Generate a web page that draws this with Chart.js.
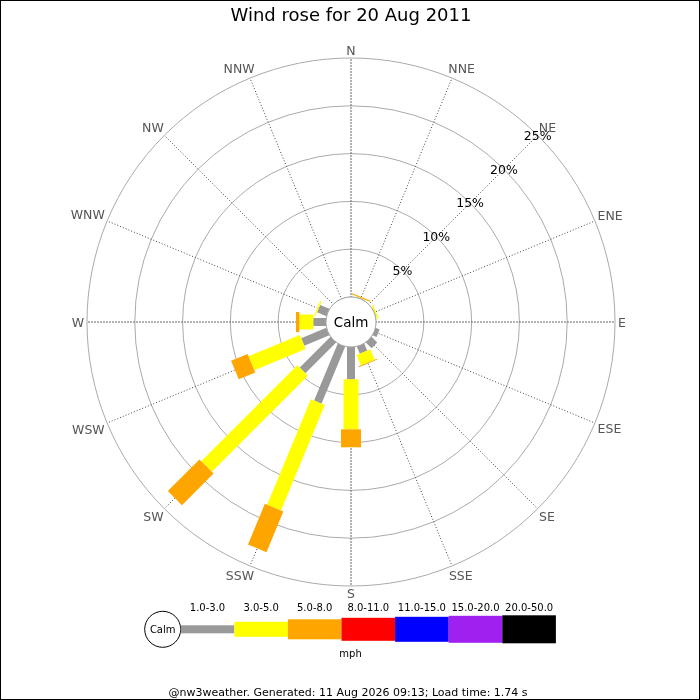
<!DOCTYPE html>
<html>
<head>
<meta charset="utf-8">
<script src="https://cdn.jsdelivr.net/npm/chart.js@4.4.1/dist/chart.umd.min.js"></script>
<style>
html,body{margin:0;padding:0;background:#fff;}
#wrap{width:700px;height:700px;position:relative;}
canvas{display:block;}
</style>
</head>
<body>
<div id="wrap"><canvas id="c" width="700" height="700"></canvas></div>
<script>
// ---------- data ----------
const directions = ['N','NNE','NE','ENE','E','ESE','SE','SSE','S','SSW','SW','WSW','W','WNW','NW','NNW'];
const speedBands = ['1.0-3.0','3.0-5.0','5.0-8.0','8.0-11.0','11.0-15.0','15.0-20.0','20.0-50.0'];
const speedUnit = 'mph';
// percentage of time per direction for each speed band
const band1to3   = [0, 0.05, 0, 0.05, 0, 0.45, 0.85, 0.80, 3.38, 6.46, 4.55, 2.85, 1.33, 1.05, 0, 0];
const band3to5   = [0, 0.05, 0, 0.15, 0, 0,    0,    1.17, 5.23, 11.95, 14.21, 5.81, 1.46, 0.15, 0, 0];
const band5to8   = [0, 0.12, 0, 0,    0, 0,    0,    0.10, 1.88, 4.60, 4.68, 1.87, 0.35, 0,    0, 0];
const band8to11  = [0, 0, 0, 0, 0, 0, 0, 0, 0, 0, 0, 0, 0, 0, 0, 0];
const band11to15 = [0, 0, 0, 0, 0, 0, 0, 0, 0, 0, 0, 0, 0, 0, 0, 0];
const band15to20 = [0, 0, 0, 0, 0, 0, 0, 0, 0, 0, 0, 0, 0, 0, 0, 0];
const band20to50 = [0, 0, 0, 0, 0, 0, 0, 0, 0, 0, 0, 0, 0, 0, 0, 0];
const tickValues = [0, 5, 10, 15, 20, 25];
const tickLabels = ['', '5%', '10%', '15%', '20%', '25%'];
const titleText = 'Wind rose for 20 Aug 2011';
const footerText = '@nw3weather. Generated: 11 Aug 2026 09:13; Load time: 1.74 s';

// ---------- styles ----------
const bandColors = ['#999999','#ffff00','#ffa500','#ff0000','#0000ff','#a020f0','#000000'];
const bandWidths = [8, 15, 20, 23, 25, 27, 28];
const FONT = '"DejaVu Sans", sans-serif';
const CAP = 0.729; // cap height ratio of DejaVu Sans

const bandSeries = [band1to3, band3to5, band5to8, band8to11, band11to15, band15to20, band20to50];

function capText(ctx, text, x, yMid, size, align) {
  ctx.font = size + 'px ' + FONT;
  ctx.textAlign = align || 'center';
  ctx.textBaseline = 'alphabetic';
  ctx.fillText(text, x, yMid + size * CAP / 2);
}

const windRosePlugin = {
  id: 'windrose',
  afterDatasetsDraw(chart) {
    const s = chart.scales.r, ctx = chart.ctx;
    ctx.save();
    ctx.lineCap = 'butt';
    ctx.setLineDash([]);
    directions.forEach((d, i) => {
      let cum = 0;
      chart.data.datasets.forEach((ds, b) => {
        const v = ds.data[i];
        if (v > 0) {
          const p0 = s.getPointPositionForValue(i, cum);
          const p1 = s.getPointPositionForValue(i, cum + v);
          ctx.strokeStyle = bandColors[b];
          ctx.lineWidth = bandWidths[b];
          ctx.beginPath();
          ctx.moveTo(p0.x, p0.y);
          ctx.lineTo(p1.x, p1.y);
          ctx.stroke();
        }
        cum += v;
      });
    });
    // calm circle
    const rc = s.getDistanceFromCenterForValue(0);
    ctx.beginPath();
    ctx.arc(s.xCenter, s.yCenter, rc, 0, Math.PI * 2);
    ctx.fillStyle = '#fff';
    ctx.fill();
    ctx.strokeStyle = '#aaa';
    ctx.lineWidth = 1;
    ctx.stroke();
    ctx.fillStyle = '#000';
    capText(ctx, 'Calm', s.xCenter, s.yCenter, 13.5);
    // percentage labels along NE
    tickValues.forEach((v, k) => {
      if (!tickLabels[k]) return;
      const p = s.getPointPositionForValue(2, v);
      capText(ctx, tickLabels[k], p.x, p.y, 12.5);
    });
    // compass labels just outside the outer ring
    ctx.fillStyle = '#555';
    const size = 12.5, gap = 3, hh = size * CAP / 2;
    ctx.font = size + 'px ' + FONT;
    directions.forEach((d, i) => {
      const w = ctx.measureText(d).width;
      const a = s.getIndexAngle(i);
      const sn = Math.sin(a), cs = Math.cos(a);
      // model 1: centred on radius, pushed out by box extent
      const ext = Math.abs(sn) * w / 2 + Math.abs(cs) * hh;
      const p1 = s.getPointPosition(i, s.drawingArea + gap + ext);
      // model 2: corner-anchored at ring point
      const p2 = s.getPointPosition(i, s.drawingArea + gap);
      const sx = Math.abs(sn) < 1e-6 ? 0 : Math.sign(sn);
      const sy = Math.abs(cs) < 1e-6 ? 0 : Math.sign(cs);
      const c2x = p2.x + sx * w / 2, c2y = p2.y - sy * hh;
      capText(ctx, d, (p1.x + c2x) / 2, (p1.y + c2y) / 2, size);
    });
    ctx.restore();
  },
  afterDraw(chart) {
    const ctx = chart.ctx;
    ctx.save();
    // legend
    const lx = 180.7, segW = 53.6, cy = 629.3;
    ctx.beginPath();
    ctx.arc(162.7, cy, 18, 0, Math.PI * 2);
    ctx.fillStyle = '#fff';
    ctx.fill();
    ctx.strokeStyle = '#000';
    ctx.lineWidth = 1;
    ctx.stroke();
    ctx.fillStyle = '#000';
    capText(ctx, 'Calm', 162.7, cy, 10);
    speedBands.forEach((lab, k) => {
      const x = lx + k * segW;
      const h = bandWidths[k];
      ctx.fillStyle = bandColors[k];
      ctx.fillRect(x, cy - h / 2, segW, h);
      ctx.fillStyle = '#000';
      capText(ctx, lab, x + segW / 2, 607, 10);
    });
    capText(ctx, speedUnit, 350.5, 653, 10);
    capText(ctx, footerText, 348, 692, 11);
    // frame
    ctx.strokeStyle = '#000';
    ctx.lineWidth = 1;
    ctx.strokeRect(0.5, 0.5, chart.width - 1, chart.height - 1);
    ctx.restore();
  }
};

const ctx = document.getElementById('c').getContext('2d');
new Chart(ctx, {
  type: 'radar',
  data: {
    labels: directions,
    datasets: bandSeries.map((d, i) => ({
      label: speedBands[i],
      data: d,
      borderWidth: 0,
      borderColor: 'rgba(0,0,0,0)',
      backgroundColor: 'rgba(0,0,0,0)',
      pointRadius: 0,
      pointHoverRadius: 0,
      fill: false
    }))
  },
  options: {
    responsive: false,
    animation: false,
    events: [],
    layout: { padding: { left: 2, top: 0, right: 0, bottom: 114 } },
    plugins: {
      legend: { display: false },
      tooltip: { enabled: false },
      title: {
        display: true,
        text: titleText,
        color: '#000',
        font: { family: FONT, size: 18, weight: 'normal', lineHeight: 1.2 },
        padding: { top: 6, bottom: 30.4 }
      }
    },
    scales: {
      r: {
        min: -2.615,
        max: 25,
        startAngle: 0,
        afterBuildTicks: (scale) => { scale.ticks = tickValues.map(v => ({ value: v })); },
        ticks: { display: false },
        grid: { circular: true, color: '#aaa', lineWidth: 1 },
        angleLines: {
          display: true,
          lineWidth: 1,
          color: (c) => (c.index % 4 === 0 ? '#666' : '#444'),
          borderDash: (c) => (c.index % 4 === 0 ? [2, 1] : [1, 2])
        },
        pointLabels: { display: false }
      }
    }
  },
  plugins: [windRosePlugin]
});
</script>
</body>
</html>
